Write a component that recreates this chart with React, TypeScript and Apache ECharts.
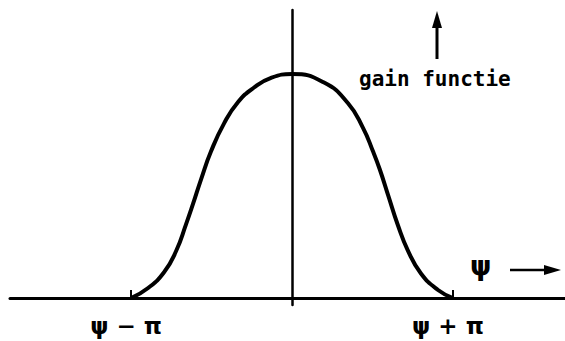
import React, { useEffect, useRef } from "react";
import * as echarts from "echarts";

// ψ positions in units of π, measured from the centre ψ
const psi = [
  -1.0, -0.894, -0.795, -0.72, -0.658, -0.615, -0.565, -0.503, -0.422, -0.335, -0.236, -0.13, 0,
  0.199, 0.348, 0.441, 0.503, 0.545, 0.596, 0.658, 0.72, 0.801, 0.907, 1.0,
];
// relative gain at each position
const gain = [
  0, 0.045, 0.115, 0.21, 0.33, 0.42, 0.53, 0.655, 0.78, 0.875, 0.94, 0.983, 1,
  0.962, 0.87, 0.76, 0.655, 0.575, 0.462, 0.325, 0.212, 0.11, 0.036, 0,
];
// tick labels below the axis
const tickValues = [-1, 1];
const tickLabels = ["ψ − π", "ψ + π"];

const INK = "#000";

export default function App() {
  const ref = useRef<HTMLDivElement>(null);

  useEffect(() => {
    if (!ref.current) return;
    const chart = echarts.init(ref.current, undefined, { renderer: "svg" });

    const curve = psi.map((x, i) => [x, gain[i]]);

    chart.setOption({
      animation: false,
      backgroundColor: "#fff",
      grid: { left: 10, right: 0, top: 10, bottom: 36 },
      xAxis: {
        type: "value",
        min: -1.752,
        max: 1.696,
        splitLine: { show: false },
        axisTick: { show: false },
        axisLine: { show: true, onZero: true, lineStyle: { color: INK, width: 3 } },
        axisLabel: {
          show: true,
          customValues: tickValues,
          formatter: (v: number) => tickLabels[tickValues.indexOf(Math.round(v))] ?? "",
          color: INK,
          fontFamily: "DejaVu Sans",
          fontWeight: "bold",
          fontSize: 23,
          margin: 9,
          padding: [0, 10, 0, 0],
        },
      },
      yAxis: {
        type: "value",
        min: -0.031,
        max: 1.286,
        splitLine: { show: false },
        axisTick: { show: false },
        axisLabel: { show: false },
        axisLine: { show: true, onZero: true, lineStyle: { color: INK, width: 2.5 } },
      },
      series: [
        {
          type: "line",
          data: curve,
          smooth: true,
          showSymbol: false,
          lineStyle: { color: INK, width: 4 },
          markLine: {
            silent: true,
            symbol: "none",
            label: { show: false },
            lineStyle: { color: INK, width: 2, type: "solid" },
            data: tickValues.map((v) => [{ coord: [v, 0] }, { coord: [v, 0.036] }]),
          },
        },
      ],
      graphic: [
        // upward arrow for the gain axis
        { type: "line", shape: { x1: 437, y1: 59, x2: 437, y2: 24 }, style: { stroke: INK, lineWidth: 3 } },
        { type: "polygon", shape: { points: [[432, 28], [442, 28], [437, 11]] }, style: { fill: INK } },
        {
          type: "text",
          x: 359,
          y: 68,
          style: {
            text: "gain functie",
            fill: INK,
            font: "bold 21px 'DejaVu Sans Mono'",
          },
        },
        // ψ direction marker
        {
          type: "text",
          x: 470,
          y: 252,
          style: { text: "ψ", fill: INK, font: "bold 27px 'DejaVu Sans'" },
        },
        { type: "line", shape: { x1: 510, y1: 270, x2: 548, y2: 270 }, style: { stroke: INK, lineWidth: 2.5 } },
        { type: "polygon", shape: { points: [[544, 265], [544, 275], [561, 270]] }, style: { fill: INK } },
      ],
    });

    return () => chart.dispose();
  }, []);

  return (
    <div
      ref={ref}
      style={{ position: "fixed", left: 0, top: 0, width: 565, height: 341, background: "#fff" }}
    />
  );
}
